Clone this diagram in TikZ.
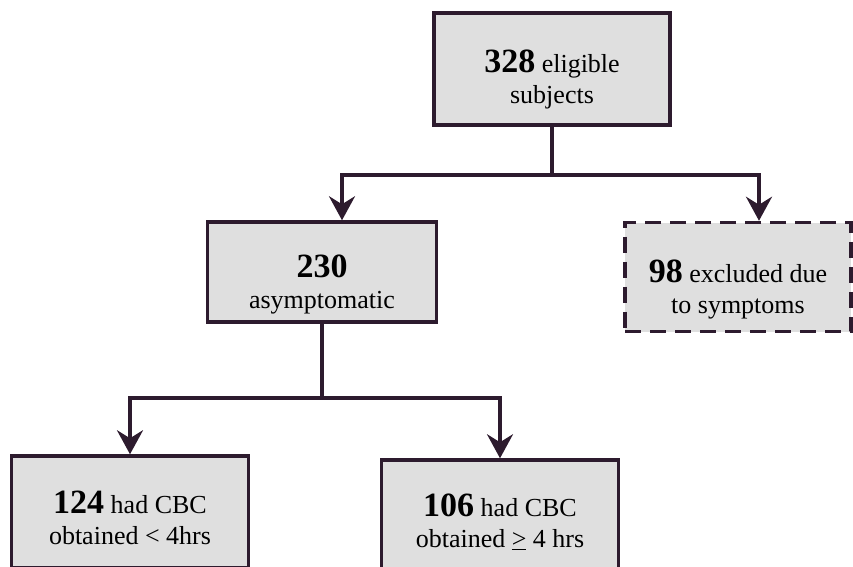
\documentclass[tikz,border=0pt]{standalone}
\usepackage{fontspec}
\setmainfont{Liberation Serif}
\usetikzlibrary{arrows.meta}
\definecolor{edge}{HTML}{2D1B2E}
\definecolor{boxfill}{HTML}{DFDFDF}
\tikzset{
  box/.style={draw=edge, fill=boxfill, line width=3.5pt, rectangle, inner sep=0pt},
  dashbox/.style={box, dash pattern=on 16pt off 9pt},
  txt/.style={align=center, inner sep=0pt, font=\fontsize{26}{31}\selectfont},
  conn/.style={draw=edge, line width=3.5pt},
  arr/.style={conn, -{Stealth[length=24pt, width=26pt, inset=8pt]}},
}
\newcommand{\bignum}[1]{{\fontsize{34}{31}\selectfont\bfseries #1}}
\begin{document}
\begin{tikzpicture}[x=1pt, y=-1pt]
\useasboundingbox (0,0) rectangle (853,566);
\clip (0,0) rectangle (853,566);
\node[box, minimum width=236pt, minimum height=112pt] (top) at (552,69) {};
\node[txt] (ttop) at ([yshift=-10pt]top.center) {\bignum{328} eligible\\subjects};
\node[box, minimum width=229pt, minimum height=100pt] (n230) at (322,272) {};
\node[txt] (t230) at ([yshift=-12pt]n230.center) {\bignum{230}\\asymptomatic};
\node[dashbox, minimum width=226pt, minimum height=109pt] (n98) at (738,277) {};
\node[txt] (t98) at ([yshift=-12pt]n98.center) {\bignum{98} excluded due\\to symptoms};
\node[box, minimum width=237pt, minimum height=112pt] (n124) at (130,512) {};
\node[txt] (t124) at ([yshift=-6pt]n124.center) {\bignum{124} had CBC\\obtained < 4hrs};
\node[box, minimum width=237pt, minimum height=112pt] (n106) at (500,516) {};
\node[txt] (t106) at ([yshift=-6pt]n106.center) {\bignum{106} had CBC\\obtained \underline{>} 4 hrs};
\coordinate (j1) at (552,175);
\coordinate (j2) at (322,398);
\draw[conn] (top.south) -- (j1);
\draw[arr] (j1) -| ([xshift=20pt]n230.north);
\draw[arr] (j1) -| ([xshift=21pt]n98.north);
\draw[conn] (n230.south) -- (j2);
\draw[arr] (j2) -| (n124.north);
\draw[arr] (j2) -| (n106.north);
\end{tikzpicture}
\end{document}
